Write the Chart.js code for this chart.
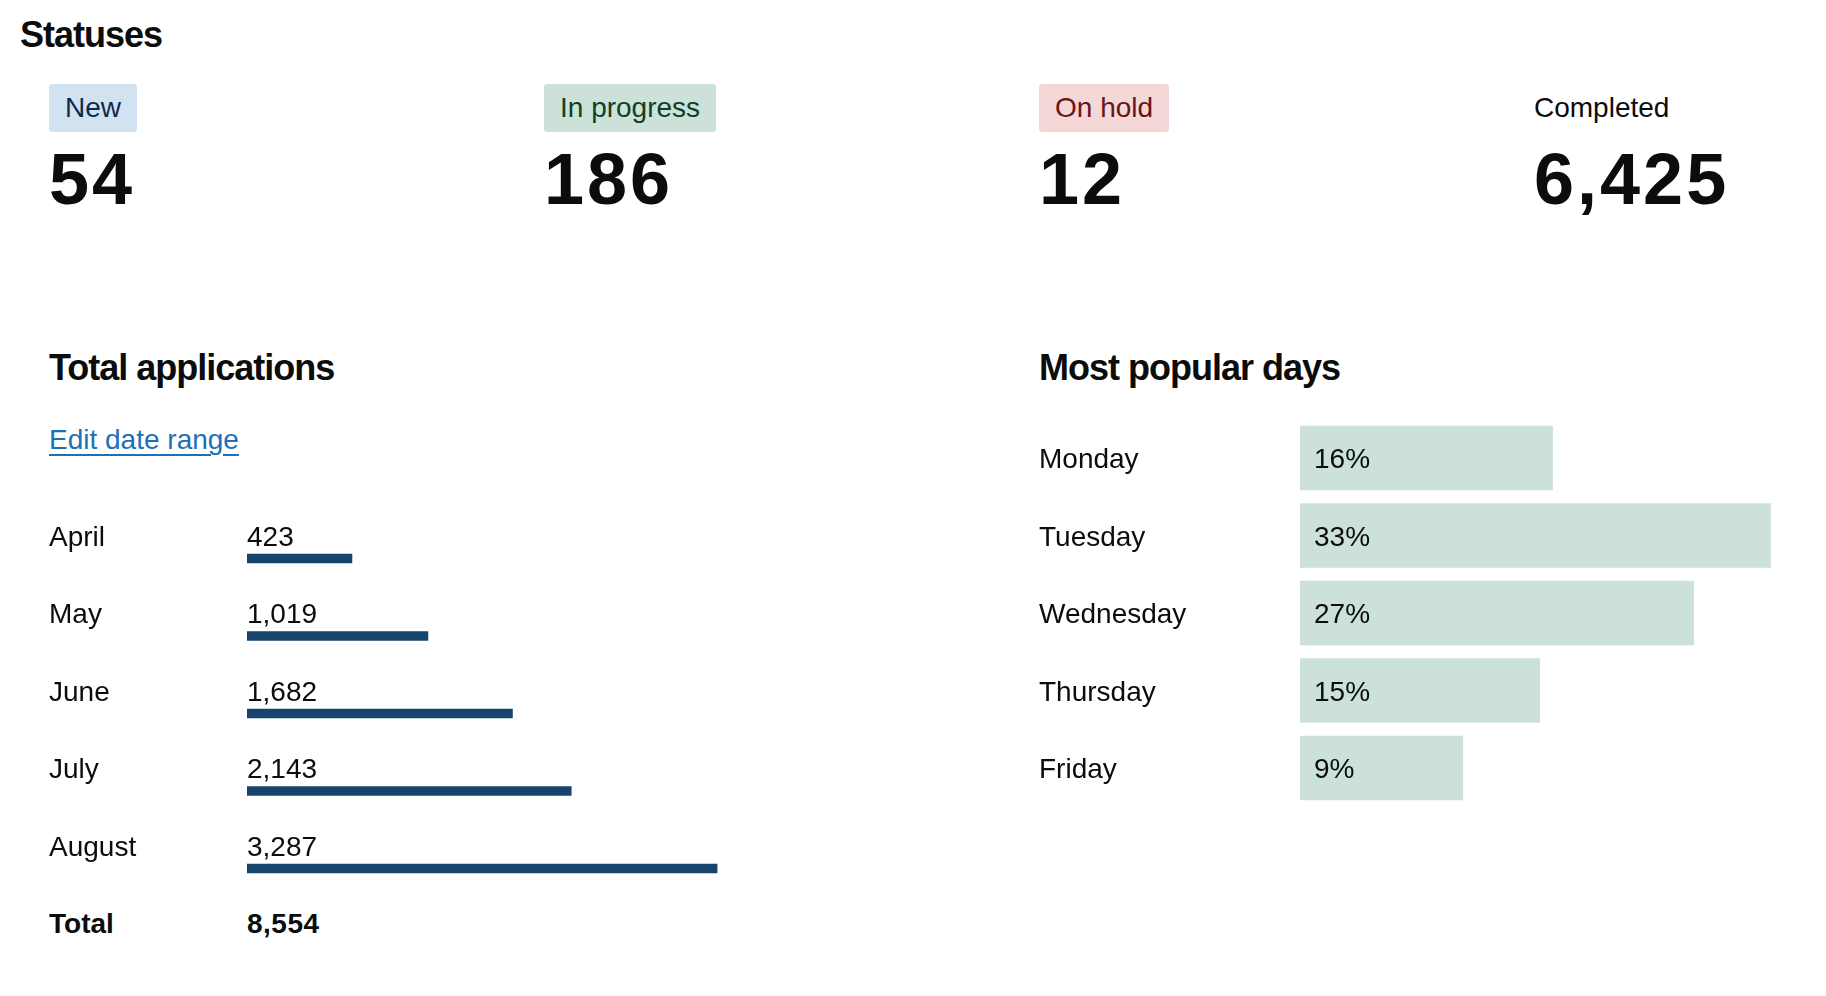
<!DOCTYPE html>
<html>
<head>
<meta charset="utf-8">
<script src="https://cdn.jsdelivr.net/npm/chart.js@4/dist/chart.umd.min.js"></script>
<style>
  body { margin: 0; background: #fff; width: 1826px; height: 996px; position: relative; overflow: hidden;
         font-family: "Liberation Sans", Arial, sans-serif; color: #0b0c0c; }
  .abs { position: absolute; white-space: nowrap; }
  .h { font-weight: 700; font-size: 36px; line-height: 36px; letter-spacing: -1px; }
  .tag { position: absolute; top: 84px; height: 48px; line-height: 48px; font-size: 28px; padding: 0 16px; border-radius: 3px; }
  .num { font-weight: 700; font-size: 72px; line-height: 72px; top: 143px; letter-spacing: 3px; }
  .body { font-size: 28px; line-height: 28px; }
  canvas { position: absolute; }
</style>
</head>
<body>
<div class="abs h" style="left:20px;top:17px;">Statuses</div>

<div id="statuses"></div>

<div class="abs h" style="left:49px;top:350px;">Total applications</div>
<div class="abs body" style="left:49px;top:426px;color:#1d70b8;text-decoration:underline;text-decoration-thickness:2px;text-underline-offset:5px;">Edit date range</div>
<div class="abs body" style="left:49px;top:910px;font-weight:700;">Total</div>
<div class="abs body" id="total" style="left:247px;top:910px;font-weight:700;letter-spacing:0.5px;"></div>

<div class="abs h" style="left:1039px;top:350px;">Most popular days</div>

<canvas id="monthChart" width="900" height="420" style="left:0;top:500px;"></canvas>
<canvas id="dayChart" width="826" height="420" style="left:1000px;top:400px;"></canvas>

<script>
// data
const statusNames = ["New", "In progress", "On hold", "Completed"];
const statusCounts = [54, 186, 12, 6425];

const months = ["April", "May", "June", "July", "August"];
const applications = [423, 1019, 1682, 2143, 3287];

const days = ["Monday", "Tuesday", "Wednesday", "Thursday", "Friday"];
const dayShare = [16, 33, 27, 15, 9];

// status tags and counts
const tagStyles = [
  { bg: "#d2e2f1", fg: "#0c2d4a" },
  { bg: "#cce2d8", fg: "#0f3f28" },
  { bg: "#f4d7d7", fg: "#6a1419" },
  { bg: "transparent", fg: "#0b0c0c" }
];
const fmt = v => v.toLocaleString("en-GB");
let html = "";
statusNames.forEach((name, i) => {
  let left = 49 + i * 495;
  let pad = tagStyles[i].bg == "transparent" ? 0 : 16;
  html += '<div class="tag" style="left:' + left + 'px;padding:0 ' + pad + 'px;background:' + tagStyles[i].bg +
          ';color:' + tagStyles[i].fg + ';">' + name + '</div>';
  html += '<div class="abs num" style="left:' + left + 'px;">' + fmt(statusCounts[i]) + '</div>';
});
document.getElementById("statuses").innerHTML = html;
document.getElementById("total").textContent = fmt(applications.reduce((a, b) => a + b, 0));

// draws the row label and the value next to each bar
const rowLabels = {
  id: "rowLabels",
  afterDatasetsDraw(chart, args, opts) {
    let ctx = chart.ctx;
    let meta = chart.getDatasetMeta(0);
    let values = chart.data.datasets[0].data;
    ctx.save();
    ctx.font = "28px 'Liberation Sans', Arial, sans-serif";
    ctx.fillStyle = "#0b0c0c";
    ctx.textBaseline = "alphabetic";
    meta.data.forEach((bar, i) => {
      ctx.fillText(chart.data.labels[i], opts.labelX, bar.y + opts.dy);
      ctx.fillText(opts.format(values[i]), bar.base + opts.valueDx, bar.y + opts.dy);
    });
    ctx.restore();
  }
};

function barOptions(min, max, padding, labelOpts) {
  return {
    indexAxis: "y",
    responsive: false,
    animation: false,
    layout: { padding: padding },
    plugins: { legend: { display: false }, tooltip: { enabled: false }, rowLabels: labelOpts },
    scales: {
      x: { type: "linear", min: min, max: max, display: false },
      y: { display: false }
    }
  };
}

new Chart(document.getElementById("monthChart"), {
  type: "bar",
  data: {
    labels: months,
    datasets: [{
      data: applications,
      base: -400,
      backgroundColor: "#16446c",
      borderWidth: 0,
      barThickness: 9
    }]
  },
  options: barOptions(-400, 4000, { left: 247, right: 92, top: 19.75, bottom: 12.75 },
    { labelX: 49, valueDx: 0, dy: -13, format: fmt }),
  plugins: [rowLabels]
});

new Chart(document.getElementById("dayChart"), {
  type: "bar",
  data: {
    labels: days,
    datasets: [{
      data: dayShare,
      base: -3.7,
      backgroundColor: "#cce2d8",
      borderWidth: 0,
      barThickness: 64
    }]
  },
  options: barOptions(-3.7, 36, { left: 300, right: 17, top: 19.25, bottom: 13.25 },
    { labelX: 39, valueDx: 14, dy: 10, format: v => v + "%" }),
  plugins: [rowLabels]
});
</script>
</body>
</html>
